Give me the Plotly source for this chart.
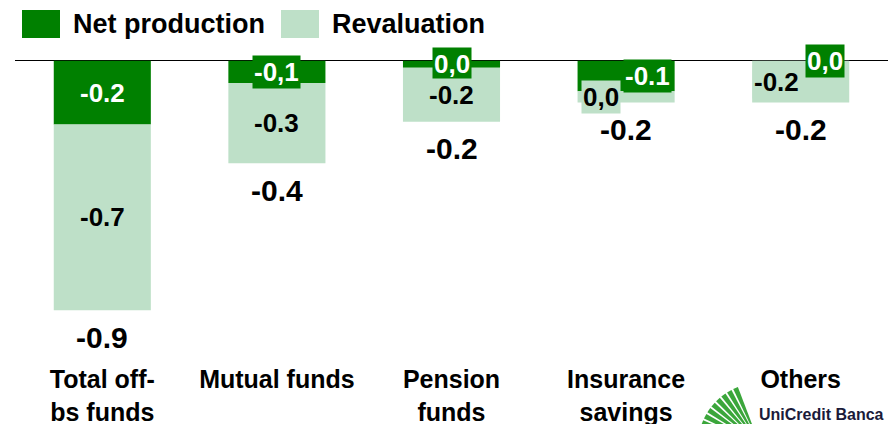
import numpy as np
import plotly.graph_objects as go

# ---- data ----
categories = ["Total off-<br>bs funds", "Mutual funds", "Pension<br>funds", "Insurance<br>savings", "Others"]
net_production = [-0.23, -0.08, -0.025, -0.11, 0.0]
revaluation = [-0.67, -0.29, -0.195, -0.04, -0.15]
net_labels = ["-0.2", "-0,1", "0,0", "-0.1", "0,0"]
reval_labels = ["-0.7", "-0.3", "-0.2", "0,0", "-0.2"]
total_labels = ["-0.9", "-0.4", "-0.2", "-0.2", "-0.2"]

# ---- style ----
DARK = "#008000"
LIGHT = "#BEE0C8"
FONT = "Arial, Liberation Sans, sans-serif"
W, H = 895, 424
ML, MR, MT, MB = 15, 7, 47, 62
PW, PH = W - ML - MR, H - MT - MB
net_dx = [0, 0, 0, 21, 24]
reval_dx = [0, 0, 0, -25, -24]

def px2paper(x, y):
    return (x - ML) / PW, (MT + PH - y) / PH

fig = go.Figure()
fig.add_trace(go.Bar(x=categories, y=net_production, name="Net production",
                     marker=dict(color=DARK, line=dict(width=0)), showlegend=False))
fig.add_trace(go.Bar(x=categories, y=revaluation, name="Revaluation",
                     marker=dict(color=LIGHT, line=dict(width=0)), showlegend=False))

ann = []
for i, c in enumerate(categories):
    n, r = net_production[i], revaluation[i]
    ann.append(dict(x=c, y=n / 2, text=net_labels[i], showarrow=False, xshift=net_dx[i],
                    font=dict(family=FONT, size=26, color="white", weight="bold"),
                    bgcolor=DARK, borderpad=1))
    ann.append(dict(x=c, y=n + r / 2, text=reval_labels[i], showarrow=False, xshift=reval_dx[i],
                    font=dict(family=FONT, size=26, color="black", weight="bold"),
                    bgcolor=LIGHT, borderpad=1))
    ann.append(dict(x=c, y=n + r, text=total_labels[i], showarrow=False, yshift=-27,
                    yanchor="middle",
                    font=dict(family=FONT, size=30, color="black", weight="bold")))

# legend drawn manually
shapes = []
for (x0, label, col) in [(22, "Net production", DARK), (281, "Revaluation", LIGHT)]:
    a0, b0 = px2paper(x0, 38)
    a1, b1 = px2paper(x0 + 38, 10)
    shapes.append(dict(type="rect", xref="paper", yref="paper", x0=a0, y0=b0, x1=a1, y1=b1,
                       fillcolor=col, line=dict(width=0)))
    tx, ty = px2paper(x0 + 49, 24)
    ann.append(dict(xref="paper", yref="paper", x=tx, y=ty, xanchor="left", yanchor="middle",
                    text=label, showarrow=False,
                    font=dict(family=FONT, size=27, color="black", weight="bold")))

# logo (decorative fan + name)
cx, cy = 760, 445
angles = np.linspace(110, 162, 9)
for k in range(len(angles) - 1):
    t0 = np.radians(angles[k] + 0.9)
    t1 = np.radians(angles[k + 1] - 0.9)
    R = 62
    pts = [(cx, cy), (cx + R * np.cos(t0), cy - R * np.sin(t0)), (cx + R * np.cos(t1), cy - R * np.sin(t1))]
    pp = [px2paper(x, y) for x, y in pts]
    path = "M {} {} L {} {} L {} {} Z".format(pp[0][0], pp[0][1], pp[1][0], pp[1][1], pp[2][0], pp[2][1])
    shapes.append(dict(type="path", xref="paper", yref="paper", path=path,
                       fillcolor="#3BA63B", line=dict(width=0)))
lx, ly = px2paper(757, 404)
ann.append(dict(xref="paper", yref="paper", x=lx, y=ly, xanchor="left", yanchor="top",
                text="UniCredit Banca", showarrow=False,
                font=dict(family=FONT, size=16, color="#1b1b3a", weight="bold")))

fig.update_layout(
    width=W, height=H, margin=dict(l=ML, r=MR, t=MT, b=MB, autoexpand=False),
    barmode="relative", bargap=0.444,
    plot_bgcolor="white", paper_bgcolor="white",
    annotations=ann, shapes=shapes,
    xaxis=dict(showgrid=False, showline=False, ticks="", automargin=False,
               tickfont=dict(family=FONT, size=25, color="black", weight="bold")),
    yaxis=dict(range=[-1.087, 0.05], showgrid=False, showticklabels=False, showline=False,
               automargin=False,
               zeroline=True, zerolinecolor="#000000", zerolinewidth=1, layer="above traces"),
)
fig.write_html("out.html", config={"displayModeBar": False},
               post_script="document.body.style.margin='0';document.body.style.overflow='hidden';")
